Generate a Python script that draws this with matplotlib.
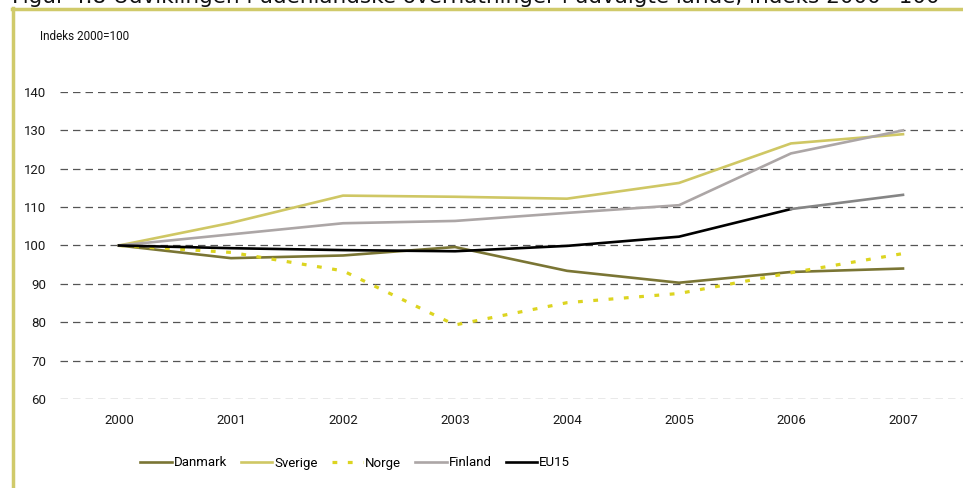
import matplotlib
matplotlib.use("Agg")
import matplotlib.pyplot as plt
from matplotlib.lines import Line2D

years = ["2000", "2001", "2002", "2003", "2004", "2005", "2006", "2007"]
danmark = [100, 96.7, 97.4, 99.6, 93.4, 90.3, 93.1, 94.0]
sverige = [100, 105.9, 113.0, 112.7, 112.2, 116.3, 126.6, 129.0]
norge = [100, 98.2, 93.4, 79.3, 85.1, 87.5, 92.9, 97.9]
finland = [100, 102.9, 105.8, 106.4, 108.5, 110.5, 124.0, 130.0]
eu15 = [100, 99.3, 98.8, 98.5, 99.9, 102.3, 109.5, 113.2]
yticks = [60, 70, 80, 90, 100, 110, 120, 130, 140]

title = "Figur 4.8 Udviklingen i udenlandske overnatninger i udvalgte lande, indeks 2000=100"
ylabel_txt = "Indeks 2000=100"

FONT = ["Roboto", "DejaVu Sans"]
plt.rcParams["font.family"] = FONT

W, H = 963, 488
fig = plt.figure(figsize=(W / 100, H / 100), dpi=100)

ax_left, ax_right, ax_top, ax_bottom = 60, 963, 92, 399
ax = fig.add_axes([ax_left / W, 1 - ax_bottom / H, (ax_right - ax_left) / W, (ax_bottom - ax_top) / H])

x = list(range(len(years)))
c_dk = "#7a7534"
c_se = "#cfc764"
c_no = "#dcd420"
c_fi = "#aca6a6"
c_eu = "#000000"

lw = 1.9
ax.plot(x, danmark, color=c_dk, lw=lw, label="Danmark", zorder=3)
ax.plot(x, sverige, color=c_se, lw=lw, label="Sverige", zorder=3)
ax.plot(x, norge, color=c_no, lw=2.3, linestyle=(0, (1.5, 3.3)), label="Norge", zorder=3)
ax.plot(x, finland, color=c_fi, lw=lw, label="Finland", zorder=3)
ax.plot(x[:7], eu15[:7], color=c_eu, lw=lw, label="EU15", zorder=4)
ax.plot(x[6:], eu15[6:], color="#858585", lw=lw, zorder=4)

px_per_unit = (903 - 119) / 7
ax.set_xlim(-(119 - ax_left) / px_per_unit, 7 + (ax_right - 903) / px_per_unit)
ax.set_ylim(60, 140)
ax.set_yticks(yticks)
ax.set_yticklabels([str(v) for v in yticks])
ax.set_xticks(x)
ax.set_xticklabels(years)
ax.tick_params(axis="both", length=0, labelsize=9.5, colors="#1a1a1a")
ax.tick_params(axis="y", pad=10)
ax.tick_params(axis="x", pad=11)
for s in ax.spines.values():
    s.set_visible(False)
ax.grid(axis="y", color="#555555", linestyle=(0, (6, 4)), lw=0.9, zorder=1)
ax.set_axisbelow(True)
ax.patch.set_alpha(0)

frame_c = "#d0ca6a"
fig.add_artist(Line2D([12 / W, 1], [1 - 9 / H, 1 - 9 / H], color=frame_c, lw=2.5, transform=fig.transFigure))
fig.add_artist(Line2D([13 / W, 13 / W], [0, 1 - 8 / H], color=frame_c, lw=2.5, transform=fig.transFigure))

fig.text(12 / W, 1 - 3 / H, title, fontsize=15.5, family=["DejaVu Sans"], va="baseline", ha="left", color="#111111")

fig.text(40 / W, 1 - 36 / H, ylabel_txt, fontsize=8.5, va="center", ha="left", color="#111111")

fig.legend(loc="center left", bbox_to_anchor=(128 / W, 1 - 463 / H), ncol=5, frameon=False,
           fontsize=9.5, handlelength=2.4, handletextpad=0.15, columnspacing=1.05)

fig.savefig("out.png", dpi=100)
